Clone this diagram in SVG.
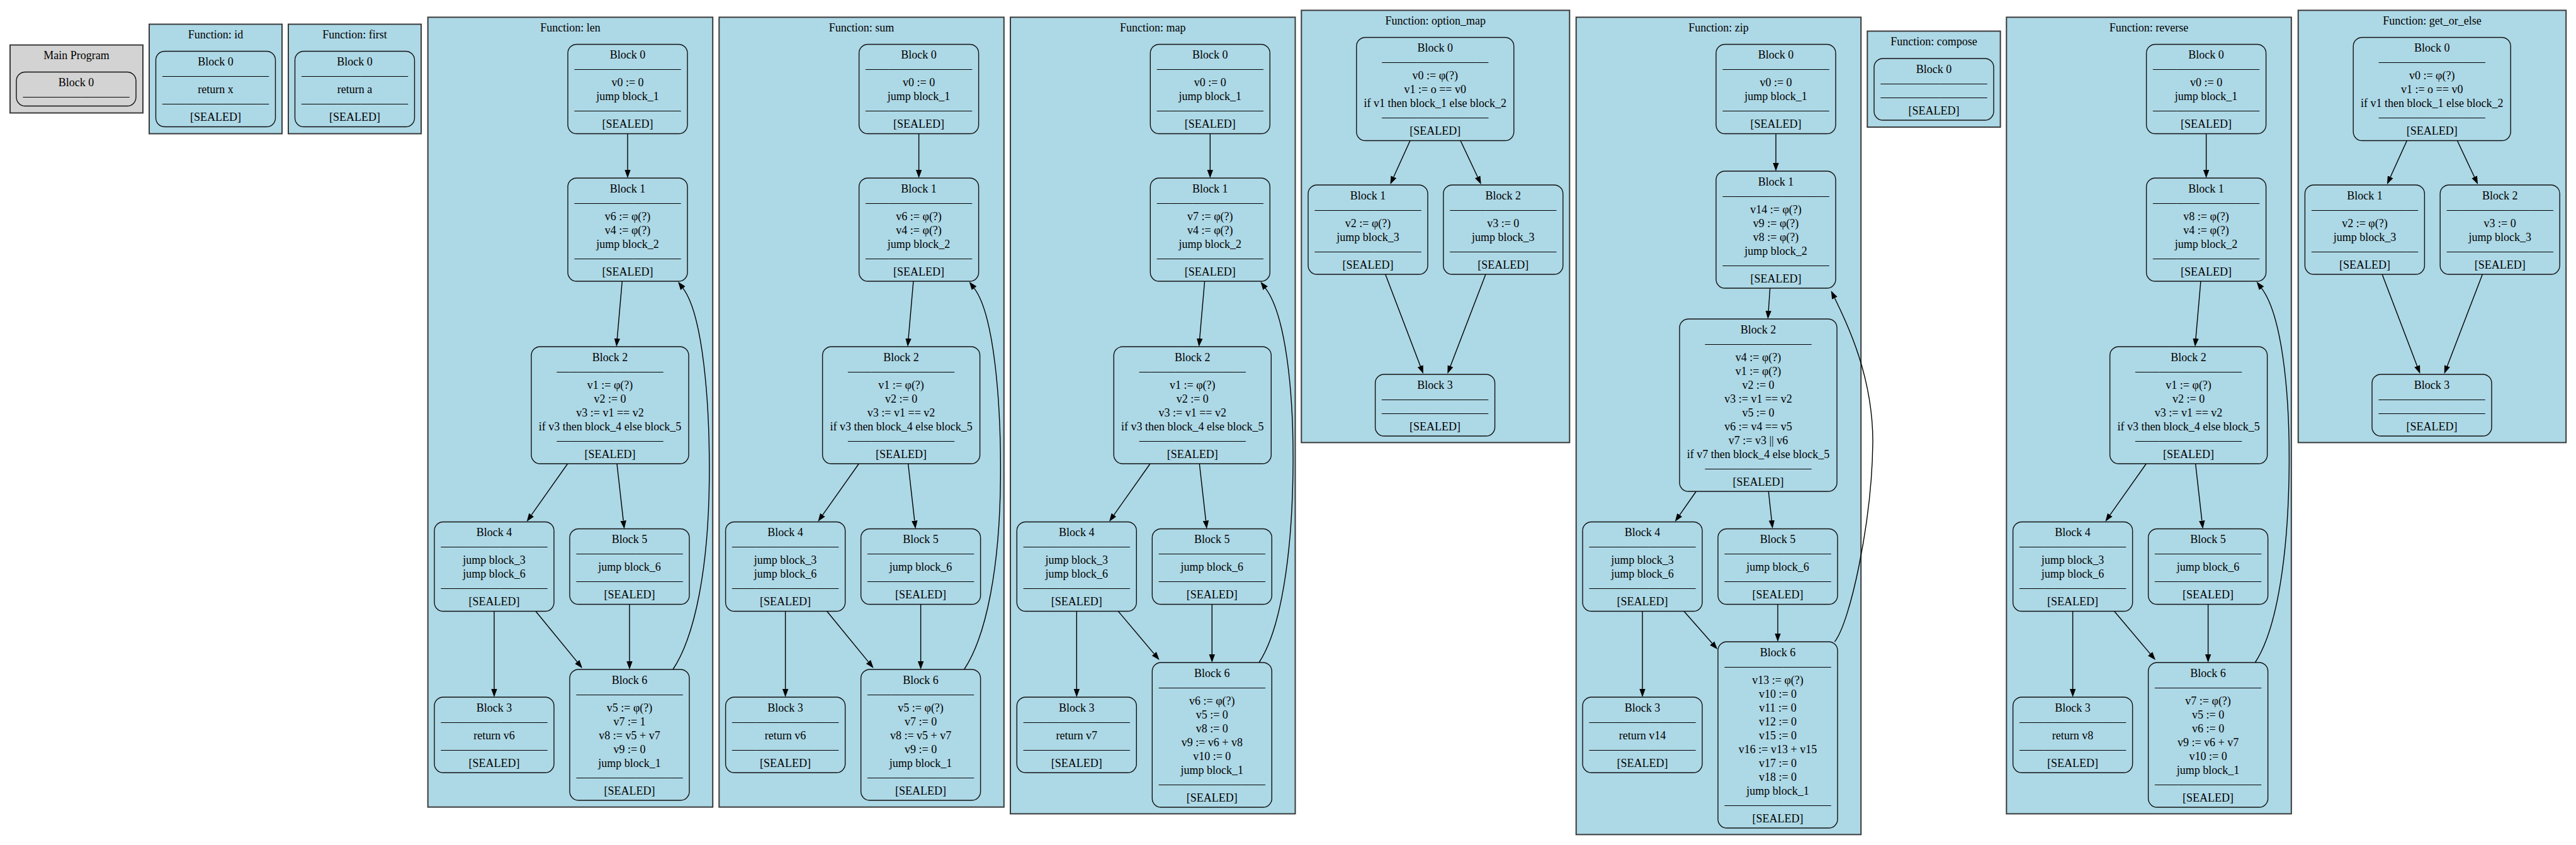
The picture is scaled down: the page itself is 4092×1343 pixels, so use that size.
<svg xmlns="http://www.w3.org/2000/svg" width="4092" height="1343" viewBox="0 0 4092 1343">
<defs>
<style>
.cl{fill:#add8e6;stroke:#3a3a3a;stroke-width:2}
.cm{fill:#d3d3d3;stroke:#3a3a3a;stroke-width:2}
.nd{fill:#add8e6;stroke:#111;stroke-width:1.4}
.nm{fill:#d3d3d3;stroke:#111;stroke-width:1.4}
text{font-family:"Liberation Serif","Times New Roman",serif;font-size:18px;text-anchor:middle;fill:#000}
text.s{font-size:18.8px}
.e{fill:none;stroke:#000;stroke-width:1.4;marker-end:url(#ah)}
</style>
<marker id="ah" viewBox="0 0 13 10" refX="0" refY="5" markerWidth="13" markerHeight="10" markerUnits="userSpaceOnUse" orient="auto"><path d="M0,0.3 L13,5 L0,9.7 z" fill="#000"/></marker>
</defs>
<rect width="4092" height="1343" fill="#fff"/>

<g id="clusters">
<g id="cluster-main"><rect class="cm" x="16" y="71.5" width="211" height="108"/><text x="121.5" y="94">Main Program</text></g>
<g id="cluster-id"><rect class="cl" x="237" y="38.5" width="211" height="174"/><text x="342.5" y="61">Function: id</text></g>
<g id="cluster-first"><rect class="cl" x="458" y="38.5" width="211" height="174"/><text x="563.5" y="61">Function: first</text></g>
<g id="cluster-len"><rect class="cl" x="679.7" y="27.4" width="452.5" height="1255.3"/><text x="906" y="50">Function: len</text></g>
<g id="cluster-sum"><rect class="cl" x="1142.3" y="27.4" width="452.5" height="1255.3"/><text x="1368.5" y="50">Function: sum</text></g>
<g id="cluster-map"><rect class="cl" x="1605" y="27.4" width="452.5" height="1266"/><text x="1831.2" y="50">Function: map</text></g>
<g id="cluster-option_map"><rect class="cl" x="2067.3" y="16.4" width="426" height="687"/><text x="2280.3" y="39">Function: option_map</text></g>
<g id="cluster-zip"><rect class="cl" x="2503.7" y="27.4" width="452.5" height="1299"/><text x="2730" y="50">Function: zip</text></g>
<g id="cluster-compose"><rect class="cl" x="2966.3" y="49.5" width="211.3" height="152.5"/><text x="3072" y="72">Function: compose</text></g>
<g id="cluster-reverse"><rect class="cl" x="3187.3" y="27.4" width="452.5" height="1266"/><text x="3413.5" y="50">Function: reverse</text></g>
<g id="cluster-get_or_else"><rect class="cl" x="3650.7" y="16.4" width="425.5" height="687"/><text x="3863.4" y="39">Function: get_or_else</text></g>
</g>

<g id="connectors">
<g id="edges-len" transform="translate(679.7,0)">
<path class="e" d="M317.3,212.5 L317.3,270"/>
<path class="e" d="M308.6,447 L300.7,538"/>
<path class="e" d="M222,737 L164.5,818.4"/>
<path class="e" d="M300.3,737 L310.5,827.6"/>
<path class="e" d="M105.3,971.5 L105.3,1095"/>
<path class="e" d="M171.3,971.5 L237.1,1051.9"/>
<path class="e" d="M320.3,960.5 L320.3,1051"/>
<path class="e" d="M389.3,1064 C425,1010 446,900 447,760 C448,640 437,500 405.2,458.1"/>
</g>
<g id="edges-sum" transform="translate(1142.3,0)">
<path class="e" d="M317.3,212.5 L317.3,270"/>
<path class="e" d="M308.6,447 L300.7,538"/>
<path class="e" d="M222,737 L164.5,818.4"/>
<path class="e" d="M300.3,737 L310.5,827.6"/>
<path class="e" d="M105.3,971.5 L105.3,1095"/>
<path class="e" d="M171.3,971.5 L237.1,1051.9"/>
<path class="e" d="M320.3,960.5 L320.3,1051"/>
<path class="e" d="M389.3,1064 C425,1010 446,900 447,760 C448,640 437,500 405.2,458.1"/>
</g>
<g id="edges-map" transform="translate(1605,0)">
<path class="e" d="M317.3,212.5 L317.3,270"/>
<path class="e" d="M308.6,447 L300.7,538"/>
<path class="e" d="M222,737 L164.5,818.4"/>
<path class="e" d="M300.3,737 L310.5,827.6"/>
<path class="e" d="M105.3,971.5 L105.3,1095"/>
<path class="e" d="M171.3,971.5 L228.3,1039.1"/>
<path class="e" d="M320.3,960.5 L320.3,1040"/>
<path class="e" d="M395,1053 C430,1000 448,880 449,740 C450,620 437,500 405.2,458.1"/>
</g>
<g id="edges-option_map" transform="translate(2067.3,0)">
<path class="e" d="M172.7,223.5 L146.5,281.2"/>
<path class="e" d="M252.7,223.5 L279.9,281.2"/>
<path class="e" d="M133.4,436 L189,581.9"/>
<path class="e" d="M292.7,436 L236.7,581.9"/>
</g>
<g id="edges-zip" transform="translate(2503.7,0)">
<path class="e" d="M317.3,212.5 L317.3,259"/>
<path class="e" d="M308,458 L305.5,494"/>
<path class="e" d="M190.6,781 L164.5,818.4"/>
<path class="e" d="M305.6,781 L310.6,827.1"/>
<path class="e" d="M105.3,971.5 L105.3,1095"/>
<path class="e" d="M171.3,971.5 L216,1022.3"/>
<path class="e" d="M320.3,960.5 L320.3,1007"/>
<path class="e" d="M410.6,1020 C435,990 470,830 471.3,702 C471.3,600 432,517 410.7,473.7"/>
</g>
<g id="edges-reverse" transform="translate(3187.3,0)">
<path class="e" d="M317.3,212.5 L317.3,270"/>
<path class="e" d="M308.6,447 L300.7,538"/>
<path class="e" d="M222,737 L164.5,818.4"/>
<path class="e" d="M300.3,737 L310.5,827.6"/>
<path class="e" d="M105.3,971.5 L105.3,1095"/>
<path class="e" d="M171.3,971.5 L228.3,1039.1"/>
<path class="e" d="M320.3,960.5 L320.3,1040"/>
<path class="e" d="M395,1053 C430,1000 448,880 449,740 C450,620 437,500 405.2,458.1"/>
</g>
<g id="edges-get_or_else" transform="translate(3650.7,0)">
<path class="e" d="M172.7,223.5 L146.5,281.2"/>
<path class="e" d="M252.7,223.5 L279.9,281.2"/>
<path class="e" d="M133.4,436 L189,581.9"/>
<path class="e" d="M292.7,436 L236.7,581.9"/>
</g>
</g>

<g id="nodes">
<!-- Main -->
<g id="main-b0" transform="translate(121,141.5)"><rect class="nm" x="-95" y="-27" width="190" height="54" rx="14"/><text y="-4.5">Block 0</text><text class="s" y="17.5">—————————</text></g>
<!-- id -->
<g id="id-b0" transform="translate(342.5,141.5)"><rect class="nd" x="-95" y="-60" width="190" height="120" rx="14"/><text y="-37.5">Block 0</text><text class="s" y="-15.5">—————————</text><text y="6.5">return x</text><text class="s" y="28.5">—————————</text><text y="50.5">[SEALED]</text></g>
<!-- first -->
<g id="first-b0" transform="translate(563.5,141.5)"><rect class="nd" x="-95" y="-60" width="190" height="120" rx="14"/><text y="-37.5">Block 0</text><text class="s" y="-15.5">—————————</text><text y="6.5">return a</text><text class="s" y="28.5">—————————</text><text y="50.5">[SEALED]</text></g>

<!-- len -->
<g id="len-b0" transform="translate(997,141.5)"><rect class="nd" x="-95" y="-71" width="190" height="142" rx="14"/><text y="-48.5">Block 0</text><text class="s" y="-26.5">—————————</text><text y="-4.5">v0 := 0</text><text y="17.5">jump block_1</text><text class="s" y="39.5">—————————</text><text y="61.5">[SEALED]</text></g>
<g id="len-b1" transform="translate(997,365)"><rect class="nd" x="-95" y="-82" width="190" height="164" rx="14"/><text y="-59.5">Block 1</text><text class="s" y="-37.5">—————————</text><text y="-15.5">v6 := φ(?)</text><text y="6.5">v4 := φ(?)</text><text y="28.5">jump block_2</text><text class="s" y="50.5">—————————</text><text y="72.5">[SEALED]</text></g>
<g id="len-b2" transform="translate(969,644)"><rect class="nd" x="-125" y="-93" width="250" height="186" rx="14"/><text y="-70.5">Block 2</text><text class="s" y="-48.5">—————————</text><text y="-26.5">v1 := φ(?)</text><text y="-4.5">v2 := 0</text><text y="17.5">v3 := v1 == v2</text><text y="39.5">if v3 then block_4 else block_5</text><text class="s" y="61.5">—————————</text><text y="83.5">[SEALED]</text></g>
<g id="len-b4" transform="translate(785,900.5)"><rect class="nd" x="-95" y="-71" width="190" height="142" rx="14"/><text y="-48.5">Block 4</text><text class="s" y="-26.5">—————————</text><text y="-4.5">jump block_3</text><text y="17.5">jump block_6</text><text class="s" y="39.5">—————————</text><text y="61.5">[SEALED]</text></g>
<g id="len-b5" transform="translate(1000,900.5)"><rect class="nd" x="-95" y="-60" width="190" height="120" rx="14"/><text y="-37.5">Block 5</text><text class="s" y="-15.5">—————————</text><text y="6.5">jump block_6</text><text class="s" y="28.5">—————————</text><text y="50.5">[SEALED]</text></g>
<g id="len-b3" transform="translate(785,1168)"><rect class="nd" x="-95" y="-60" width="190" height="120" rx="14"/><text y="-37.5">Block 3</text><text class="s" y="-15.5">—————————</text><text y="6.5">return v6</text><text class="s" y="28.5">—————————</text><text y="50.5">[SEALED]</text></g>
<g id="len-b6" transform="translate(1000,1168)"><rect class="nd" x="-95" y="-104" width="190" height="208" rx="14"/><text y="-81.5">Block 6</text><text class="s" y="-59.5">—————————</text><text y="-37.5">v5 := φ(?)</text><text y="-15.5">v7 := 1</text><text y="6.5">v8 := v5 + v7</text><text y="28.5">v9 := 0</text><text y="50.5">jump block_1</text><text class="s" y="72.5">—————————</text><text y="94.5">[SEALED]</text></g>

<!-- sum -->
<g id="sum-b0" transform="translate(1459.6,141.5)"><rect class="nd" x="-95" y="-71" width="190" height="142" rx="14"/><text y="-48.5">Block 0</text><text class="s" y="-26.5">—————————</text><text y="-4.5">v0 := 0</text><text y="17.5">jump block_1</text><text class="s" y="39.5">—————————</text><text y="61.5">[SEALED]</text></g>
<g id="sum-b1" transform="translate(1459.6,365)"><rect class="nd" x="-95" y="-82" width="190" height="164" rx="14"/><text y="-59.5">Block 1</text><text class="s" y="-37.5">—————————</text><text y="-15.5">v6 := φ(?)</text><text y="6.5">v4 := φ(?)</text><text y="28.5">jump block_2</text><text class="s" y="50.5">—————————</text><text y="72.5">[SEALED]</text></g>
<g id="sum-b2" transform="translate(1431.6,644)"><rect class="nd" x="-125" y="-93" width="250" height="186" rx="14"/><text y="-70.5">Block 2</text><text class="s" y="-48.5">—————————</text><text y="-26.5">v1 := φ(?)</text><text y="-4.5">v2 := 0</text><text y="17.5">v3 := v1 == v2</text><text y="39.5">if v3 then block_4 else block_5</text><text class="s" y="61.5">—————————</text><text y="83.5">[SEALED]</text></g>
<g id="sum-b4" transform="translate(1247.6,900.5)"><rect class="nd" x="-95" y="-71" width="190" height="142" rx="14"/><text y="-48.5">Block 4</text><text class="s" y="-26.5">—————————</text><text y="-4.5">jump block_3</text><text y="17.5">jump block_6</text><text class="s" y="39.5">—————————</text><text y="61.5">[SEALED]</text></g>
<g id="sum-b5" transform="translate(1462.6,900.5)"><rect class="nd" x="-95" y="-60" width="190" height="120" rx="14"/><text y="-37.5">Block 5</text><text class="s" y="-15.5">—————————</text><text y="6.5">jump block_6</text><text class="s" y="28.5">—————————</text><text y="50.5">[SEALED]</text></g>
<g id="sum-b3" transform="translate(1247.6,1168)"><rect class="nd" x="-95" y="-60" width="190" height="120" rx="14"/><text y="-37.5">Block 3</text><text class="s" y="-15.5">—————————</text><text y="6.5">return v6</text><text class="s" y="28.5">—————————</text><text y="50.5">[SEALED]</text></g>
<g id="sum-b6" transform="translate(1462.6,1168)"><rect class="nd" x="-95" y="-104" width="190" height="208" rx="14"/><text y="-81.5">Block 6</text><text class="s" y="-59.5">—————————</text><text y="-37.5">v5 := φ(?)</text><text y="-15.5">v7 := 0</text><text y="6.5">v8 := v5 + v7</text><text y="28.5">v9 := 0</text><text y="50.5">jump block_1</text><text class="s" y="72.5">—————————</text><text y="94.5">[SEALED]</text></g>

<!-- map -->
<g id="map-b0" transform="translate(1922.3,141.5)"><rect class="nd" x="-95" y="-71" width="190" height="142" rx="14"/><text y="-48.5">Block 0</text><text class="s" y="-26.5">—————————</text><text y="-4.5">v0 := 0</text><text y="17.5">jump block_1</text><text class="s" y="39.5">—————————</text><text y="61.5">[SEALED]</text></g>
<g id="map-b1" transform="translate(1922.3,365)"><rect class="nd" x="-95" y="-82" width="190" height="164" rx="14"/><text y="-59.5">Block 1</text><text class="s" y="-37.5">—————————</text><text y="-15.5">v7 := φ(?)</text><text y="6.5">v4 := φ(?)</text><text y="28.5">jump block_2</text><text class="s" y="50.5">—————————</text><text y="72.5">[SEALED]</text></g>
<g id="map-b2" transform="translate(1894.3,644)"><rect class="nd" x="-125" y="-93" width="250" height="186" rx="14"/><text y="-70.5">Block 2</text><text class="s" y="-48.5">—————————</text><text y="-26.5">v1 := φ(?)</text><text y="-4.5">v2 := 0</text><text y="17.5">v3 := v1 == v2</text><text y="39.5">if v3 then block_4 else block_5</text><text class="s" y="61.5">—————————</text><text y="83.5">[SEALED]</text></g>
<g id="map-b4" transform="translate(1710.3,900.5)"><rect class="nd" x="-95" y="-71" width="190" height="142" rx="14"/><text y="-48.5">Block 4</text><text class="s" y="-26.5">—————————</text><text y="-4.5">jump block_3</text><text y="17.5">jump block_6</text><text class="s" y="39.5">—————————</text><text y="61.5">[SEALED]</text></g>
<g id="map-b5" transform="translate(1925.3,900.5)"><rect class="nd" x="-95" y="-60" width="190" height="120" rx="14"/><text y="-37.5">Block 5</text><text class="s" y="-15.5">—————————</text><text y="6.5">jump block_6</text><text class="s" y="28.5">—————————</text><text y="50.5">[SEALED]</text></g>
<g id="map-b3" transform="translate(1710.3,1168)"><rect class="nd" x="-95" y="-60" width="190" height="120" rx="14"/><text y="-37.5">Block 3</text><text class="s" y="-15.5">—————————</text><text y="6.5">return v7</text><text class="s" y="28.5">—————————</text><text y="50.5">[SEALED]</text></g>
<g id="map-b6" transform="translate(1925.3,1168)"><rect class="nd" x="-95" y="-115" width="190" height="230" rx="14"/><text y="-92.5">Block 6</text><text class="s" y="-70.5">—————————</text><text y="-48.5">v6 := φ(?)</text><text y="-26.5">v5 := 0</text><text y="-4.5">v8 := 0</text><text y="17.5">v9 := v6 + v8</text><text y="39.5">v10 := 0</text><text y="61.5">jump block_1</text><text class="s" y="83.5">—————————</text><text y="105.5">[SEALED]</text></g>

<!-- option_map -->
<g id="option_map-b0" transform="translate(2279.8,141.5)"><rect class="nd" x="-125" y="-82" width="250" height="164" rx="14"/><text y="-59.5">Block 0</text><text class="s" y="-37.5">—————————</text><text y="-15.5">v0 := φ(?)</text><text y="6.5">v1 := o == v0</text><text y="28.5">if v1 then block_1 else block_2</text><text class="s" y="50.5">—————————</text><text y="72.5">[SEALED]</text></g>
<g id="option_map-b1" transform="translate(2173,365)"><rect class="nd" x="-95" y="-71" width="190" height="142" rx="14"/><text y="-48.5">Block 1</text><text class="s" y="-26.5">—————————</text><text y="-4.5">v2 := φ(?)</text><text y="17.5">jump block_3</text><text class="s" y="39.5">—————————</text><text y="61.5">[SEALED]</text></g>
<g id="option_map-b2" transform="translate(2387.8,365)"><rect class="nd" x="-95" y="-71" width="190" height="142" rx="14"/><text y="-48.5">Block 2</text><text class="s" y="-26.5">—————————</text><text y="-4.5">v3 := 0</text><text y="17.5">jump block_3</text><text class="s" y="39.5">—————————</text><text y="61.5">[SEALED]</text></g>
<g id="option_map-b3" transform="translate(2279.6,644)"><rect class="nd" x="-95" y="-49" width="190" height="98" rx="14"/><text y="-26.5">Block 3</text><text class="s" y="-4.5">—————————</text><text class="s" y="17.5">—————————</text><text y="39.5">[SEALED]</text></g>

<!-- zip -->
<g id="zip-b0" transform="translate(2821,141.5)"><rect class="nd" x="-95" y="-71" width="190" height="142" rx="14"/><text y="-48.5">Block 0</text><text class="s" y="-26.5">—————————</text><text y="-4.5">v0 := 0</text><text y="17.5">jump block_1</text><text class="s" y="39.5">—————————</text><text y="61.5">[SEALED]</text></g>
<g id="zip-b1" transform="translate(2821,365)"><rect class="nd" x="-95" y="-93" width="190" height="186" rx="14"/><text y="-70.5">Block 1</text><text class="s" y="-48.5">—————————</text><text y="-26.5">v14 := φ(?)</text><text y="-4.5">v9 := φ(?)</text><text y="17.5">v8 := φ(?)</text><text y="39.5">jump block_2</text><text class="s" y="61.5">—————————</text><text y="83.5">[SEALED]</text></g>
<g id="zip-b2" transform="translate(2793,644)"><rect class="nd" x="-125" y="-137" width="250" height="274" rx="14"/><text y="-114.5">Block 2</text><text class="s" y="-92.5">—————————</text><text y="-70.5">v4 := φ(?)</text><text y="-48.5">v1 := φ(?)</text><text y="-26.5">v2 := 0</text><text y="-4.5">v3 := v1 == v2</text><text y="17.5">v5 := 0</text><text y="39.5">v6 := v4 == v5</text><text y="61.5">v7 := v3 || v6</text><text y="83.5">if v7 then block_4 else block_5</text><text class="s" y="105.5">—————————</text><text y="127.5">[SEALED]</text></g>
<g id="zip-b4" transform="translate(2609,900.5)"><rect class="nd" x="-95" y="-71" width="190" height="142" rx="14"/><text y="-48.5">Block 4</text><text class="s" y="-26.5">—————————</text><text y="-4.5">jump block_3</text><text y="17.5">jump block_6</text><text class="s" y="39.5">—————————</text><text y="61.5">[SEALED]</text></g>
<g id="zip-b5" transform="translate(2824,900.5)"><rect class="nd" x="-95" y="-60" width="190" height="120" rx="14"/><text y="-37.5">Block 5</text><text class="s" y="-15.5">—————————</text><text y="6.5">jump block_6</text><text class="s" y="28.5">—————————</text><text y="50.5">[SEALED]</text></g>
<g id="zip-b3" transform="translate(2609,1168)"><rect class="nd" x="-95" y="-60" width="190" height="120" rx="14"/><text y="-37.5">Block 3</text><text class="s" y="-15.5">—————————</text><text y="6.5">return v14</text><text class="s" y="28.5">—————————</text><text y="50.5">[SEALED]</text></g>
<g id="zip-b6" transform="translate(2824,1168)"><rect class="nd" x="-95" y="-148" width="190" height="296" rx="14"/><text y="-125.5">Block 6</text><text class="s" y="-103.5">—————————</text><text y="-81.5">v13 := φ(?)</text><text y="-59.5">v10 := 0</text><text y="-37.5">v11 := 0</text><text y="-15.5">v12 := 0</text><text y="6.5">v15 := 0</text><text y="28.5">v16 := v13 + v15</text><text y="50.5">v17 := 0</text><text y="72.5">v18 := 0</text><text y="94.5">jump block_1</text><text class="s" y="116.5">—————————</text><text y="138.5">[SEALED]</text></g>

<!-- compose -->
<g id="compose-b0" transform="translate(3072,142)"><rect class="nd" x="-95" y="-49" width="190" height="98" rx="14"/><text y="-26.5">Block 0</text><text class="s" y="-4.5">—————————</text><text class="s" y="17.5">—————————</text><text y="39.5">[SEALED]</text></g>

<!-- reverse -->
<g id="reverse-b0" transform="translate(3504.6,141.5)"><rect class="nd" x="-95" y="-71" width="190" height="142" rx="14"/><text y="-48.5">Block 0</text><text class="s" y="-26.5">—————————</text><text y="-4.5">v0 := 0</text><text y="17.5">jump block_1</text><text class="s" y="39.5">—————————</text><text y="61.5">[SEALED]</text></g>
<g id="reverse-b1" transform="translate(3504.6,365)"><rect class="nd" x="-95" y="-82" width="190" height="164" rx="14"/><text y="-59.5">Block 1</text><text class="s" y="-37.5">—————————</text><text y="-15.5">v8 := φ(?)</text><text y="6.5">v4 := φ(?)</text><text y="28.5">jump block_2</text><text class="s" y="50.5">—————————</text><text y="72.5">[SEALED]</text></g>
<g id="reverse-b2" transform="translate(3476.6,644)"><rect class="nd" x="-125" y="-93" width="250" height="186" rx="14"/><text y="-70.5">Block 2</text><text class="s" y="-48.5">—————————</text><text y="-26.5">v1 := φ(?)</text><text y="-4.5">v2 := 0</text><text y="17.5">v3 := v1 == v2</text><text y="39.5">if v3 then block_4 else block_5</text><text class="s" y="61.5">—————————</text><text y="83.5">[SEALED]</text></g>
<g id="reverse-b4" transform="translate(3292.6,900.5)"><rect class="nd" x="-95" y="-71" width="190" height="142" rx="14"/><text y="-48.5">Block 4</text><text class="s" y="-26.5">—————————</text><text y="-4.5">jump block_3</text><text y="17.5">jump block_6</text><text class="s" y="39.5">—————————</text><text y="61.5">[SEALED]</text></g>
<g id="reverse-b5" transform="translate(3507.6,900.5)"><rect class="nd" x="-95" y="-60" width="190" height="120" rx="14"/><text y="-37.5">Block 5</text><text class="s" y="-15.5">—————————</text><text y="6.5">jump block_6</text><text class="s" y="28.5">—————————</text><text y="50.5">[SEALED]</text></g>
<g id="reverse-b3" transform="translate(3292.6,1168)"><rect class="nd" x="-95" y="-60" width="190" height="120" rx="14"/><text y="-37.5">Block 3</text><text class="s" y="-15.5">—————————</text><text y="6.5">return v8</text><text class="s" y="28.5">—————————</text><text y="50.5">[SEALED]</text></g>
<g id="reverse-b6" transform="translate(3507.6,1168)"><rect class="nd" x="-95" y="-115" width="190" height="230" rx="14"/><text y="-92.5">Block 6</text><text class="s" y="-70.5">—————————</text><text y="-48.5">v7 := φ(?)</text><text y="-26.5">v5 := 0</text><text y="-4.5">v6 := 0</text><text y="17.5">v9 := v6 + v7</text><text y="39.5">v10 := 0</text><text y="61.5">jump block_1</text><text class="s" y="83.5">—————————</text><text y="105.5">[SEALED]</text></g>

<!-- get_or_else -->
<g id="get_or_else-b0" transform="translate(3863.2,141.5)"><rect class="nd" x="-125" y="-82" width="250" height="164" rx="14"/><text y="-59.5">Block 0</text><text class="s" y="-37.5">—————————</text><text y="-15.5">v0 := φ(?)</text><text y="6.5">v1 := o == v0</text><text y="28.5">if v1 then block_1 else block_2</text><text class="s" y="50.5">—————————</text><text y="72.5">[SEALED]</text></g>
<g id="get_or_else-b1" transform="translate(3756.4,365)"><rect class="nd" x="-95" y="-71" width="190" height="142" rx="14"/><text y="-48.5">Block 1</text><text class="s" y="-26.5">—————————</text><text y="-4.5">v2 := φ(?)</text><text y="17.5">jump block_3</text><text class="s" y="39.5">—————————</text><text y="61.5">[SEALED]</text></g>
<g id="get_or_else-b2" transform="translate(3971.2,365)"><rect class="nd" x="-95" y="-71" width="190" height="142" rx="14"/><text y="-48.5">Block 2</text><text class="s" y="-26.5">—————————</text><text y="-4.5">v3 := 0</text><text y="17.5">jump block_3</text><text class="s" y="39.5">—————————</text><text y="61.5">[SEALED]</text></g>
<g id="get_or_else-b3" transform="translate(3863,644)"><rect class="nd" x="-95" y="-49" width="190" height="98" rx="14"/><text y="-26.5">Block 3</text><text class="s" y="-4.5">—————————</text><text class="s" y="17.5">—————————</text><text y="39.5">[SEALED]</text></g>
</g>
</svg>
